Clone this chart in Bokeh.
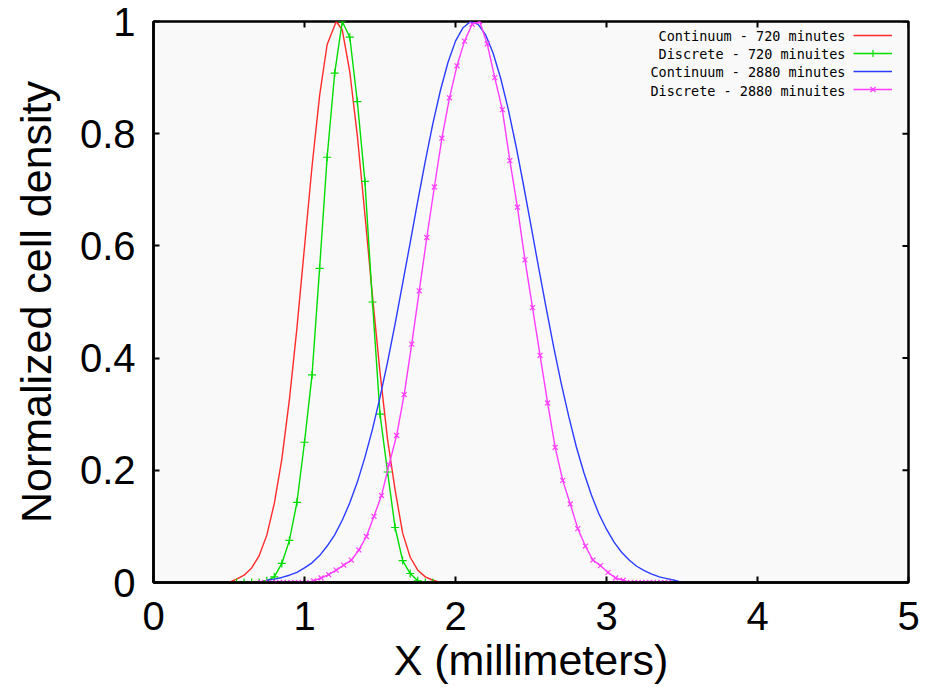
import math
from bokeh.plotting import figure
from bokeh.models import Range1d, FixedTicker, Legend, LegendItem, Label
from bokeh.embed import file_html
from bokeh.resources import INLINE
from bokeh.core.properties import value

# ---------------- data ----------------
x_ticks = [0, 1, 2, 3, 4, 5]
y_ticks = [0, 0.2, 0.4, 0.6, 0.8, 1]
y_tick_labels = {0: "0", 0.2: "0.2", 0.4: "0.4", 0.6: "0.6", 0.8: "0.8", 1: "1"}
X_MIN, X_MAX, Y_MIN, Y_MAX = 0, 5, 0, 1

series_names = ["Continuum - 720 minutes", "Discrete - 720 minuites",
                "Continuum - 2880 minutes", "Discrete - 2880 minuites"]

cont720_x = [0.50, 0.55, 0.60, 0.65, 0.70, 0.75, 0.80, 0.85, 0.90, 0.95, 1.00, 1.05, 1.10, 1.15,
             1.21, 1.25, 1.30, 1.35, 1.40, 1.45, 1.50, 1.55, 1.60, 1.65, 1.70, 1.75, 1.80, 1.85, 1.90]
cont720_y = [0.0, 0.006, 0.013, 0.026, 0.048, 0.084, 0.141, 0.220, 0.326, 0.454, 0.598, 0.742, 0.868, 0.959,
             1.0, 0.985, 0.910, 0.796, 0.656, 0.511, 0.375, 0.255, 0.165, 0.088, 0.045, 0.022, 0.010, 0.004, 0.0]

disc720_x = [0.55, 0.60, 0.65, 0.70, 0.75, 0.80, 0.85, 0.90, 0.95, 1.00, 1.05, 1.10, 1.15, 1.20,
             1.25, 1.30, 1.35, 1.40, 1.45, 1.50, 1.55, 1.60, 1.65, 1.70, 1.75, 1.80, 1.85]
disc720_y = [0.0, 0.0, 0.0, 0.0, 0.003, 0.010, 0.034, 0.075, 0.143, 0.250, 0.370, 0.560, 0.758, 0.908,
             1.0, 0.972, 0.857, 0.715, 0.500, 0.300, 0.197, 0.098, 0.039, 0.016, 0.003, 0.0, 0.0]

cont2880_x = [0.75, 0.80, 0.85, 0.90, 0.95, 1.00, 1.05, 1.10, 1.15, 1.20, 1.25, 1.30, 1.35, 1.40,
              1.45, 1.50, 1.55, 1.60, 1.65, 1.70, 1.75, 1.80, 1.85, 1.90, 1.95, 2.00, 2.05, 2.10,
              2.15, 2.20, 2.25, 2.30, 2.35, 2.40, 2.45, 2.50, 2.55, 2.60, 2.65, 2.70, 2.75, 2.80,
              2.85, 2.90, 2.95, 3.00, 3.05, 3.10, 3.15, 3.20, 3.25, 3.30, 3.35, 3.40, 3.45, 3.50]
cont2880_y = [0.004, 0.006, 0.009, 0.013, 0.018, 0.026, 0.035, 0.048, 0.065, 0.085, 0.111, 0.142, 0.179, 0.223,
              0.273, 0.330, 0.393, 0.461, 0.533, 0.606, 0.680, 0.751, 0.818, 0.877, 0.927, 0.965, 0.989, 1.0,
              0.995, 0.976, 0.943, 0.898, 0.843, 0.779, 0.709, 0.636, 0.562, 0.490, 0.420, 0.355, 0.296, 0.242,
              0.196, 0.156, 0.122, 0.095, 0.072, 0.054, 0.040, 0.029, 0.021, 0.015, 0.010, 0.007, 0.004, 0.0]

disc2880_x = [0.71, 0.76, 0.81, 0.86, 0.91, 0.96, 1.01, 1.06, 1.11, 1.16, 1.21, 1.26, 1.31, 1.36,
              1.41, 1.46, 1.51, 1.56, 1.61, 1.66, 1.71, 1.76, 1.81, 1.86, 1.91, 1.96, 2.01, 2.06,
              2.11, 2.16, 2.21, 2.26, 2.31, 2.36, 2.41, 2.46, 2.51, 2.56, 2.61, 2.66, 2.71, 2.76,
              2.81, 2.86, 2.91, 2.96, 3.01, 3.06, 3.11, 3.16, 3.21, 3.26, 3.31, 3.36, 3.41]
disc2880_y = [0.0, 0.0, 0.0, 0.0, 0.0, 0.0, 0.0, 0.003, 0.008, 0.014, 0.022, 0.031, 0.040, 0.058,
              0.082, 0.118, 0.155, 0.210, 0.262, 0.335, 0.425, 0.520, 0.615, 0.705, 0.792, 0.864, 0.921, 0.965,
              0.995, 1.0, 0.960, 0.900, 0.843, 0.752, 0.669, 0.575, 0.490, 0.405, 0.320, 0.241, 0.182, 0.140,
              0.096, 0.065, 0.040, 0.030, 0.018, 0.008, 0.004, 0.0, 0.0, 0.0, 0.0, 0.0, 0.0]

# ---------------- style ----------------
RED, GREEN, BLUE, PINK = "#ff2a2a", "#00dd00", "#2a3cff", "#ff3cff"
FONT = "Liberation Sans"

p = figure(width=926, height=687, output_backend="svg", toolbar_location=None,
           x_range=Range1d(X_MIN, X_MAX), y_range=Range1d(Y_MIN, Y_MAX),
           min_border_left=153, min_border_right=18, min_border_top=21, min_border_bottom=105,
           background_fill_color="#f9f9f9", border_fill_color="white")
p.grid.visible = False
p.outline_line_color = "black"
p.outline_line_width = 2.5

p.xaxis.ticker = FixedTicker(ticks=x_ticks)
p.yaxis.ticker = FixedTicker(ticks=y_ticks)
p.yaxis.major_label_overrides = y_tick_labels
p.xaxis.axis_label = "X (millimeters)"
p.yaxis.axis_label = "Normalized cell density"

for ax in (p.xaxis[0], p.yaxis[0]):
    ax.axis_line_width = 2.5
    ax.axis_line_color = "black"
    ax.major_tick_in = 6
    ax.major_tick_out = 0
    ax.major_tick_line_width = 2
    ax.minor_tick_line_color = None
    ax.major_label_text_font = FONT
    ax.major_label_text_font_size = "40px"
    ax.major_label_text_color = "black"
    ax.axis_label_text_font = FONT
    ax.axis_label_text_font_size = "43px"
    ax.axis_label_text_font_style = "normal"
    ax.axis_label_text_color = "black"

p.xaxis.major_label_standoff = 19
p.xaxis.axis_label_standoff = 3
p.yaxis.major_label_standoff = 18
p.yaxis.axis_label_standoff = 17

# mirrored inward ticks on the top and right edges (half of each dash is clipped by the frame)
p.scatter(x_ticks, [Y_MAX] * len(x_ticks), marker="dash", angle=math.pi / 2, size=12,
          line_color="black", line_width=2)
p.scatter([X_MAX] * len(y_ticks), y_ticks, marker="dash", size=12,
          line_color="black", line_width=2)

# ---------------- series ----------------
r1 = p.line(cont720_x, cont720_y, line_color=RED, line_width=1.4)
r2 = p.line(disc720_x, disc720_y, line_color=GREEN, line_width=1.4)
r2m = p.scatter(disc720_x, disc720_y, marker="cross", size=8, line_color=GREEN, line_width=1.2)
r3 = p.line(cont2880_x, cont2880_y, line_color=BLUE, line_width=1.4)
r4 = p.line(disc2880_x, disc2880_y, line_color=PINK, line_width=1.4)
r4m = p.scatter(disc2880_x, disc2880_y, marker="x", size=7, line_color=PINK, line_width=1.2)

# legend: line samples on the right (gnuplot style), key texts right-aligned to their left
legend = Legend(items=[LegendItem(label=value(" "), renderers=[r1]),
                       LegendItem(label=value(" "), renderers=[r2, r2m]),
                       LegendItem(label=value(" "), renderers=[r3]),
                       LegendItem(label=value(" "), renderers=[r4, r4m])],
                location=(700, 484), glyph_width=39, glyph_height=18, label_height=18,
                label_width=0, label_standoff=0, spacing=0, padding=0, margin=0,
                label_text_font_size="13.5px",
                background_fill_alpha=0, border_line_alpha=0)
p.add_layout(legend, "center")

row_y = [547, 528.7, 510.3, 492]
for name, yy in zip(series_names, row_y):
    p.add_layout(Label(x=692, y=yy, x_units="screen", y_units="screen", text=name,
                       text_align="right", text_baseline="middle",
                       text_font="DejaVu Sans Mono", text_font_size="13.5px",
                       text_color="black"))

open("out.html", "w").write(file_html(p, INLINE))
